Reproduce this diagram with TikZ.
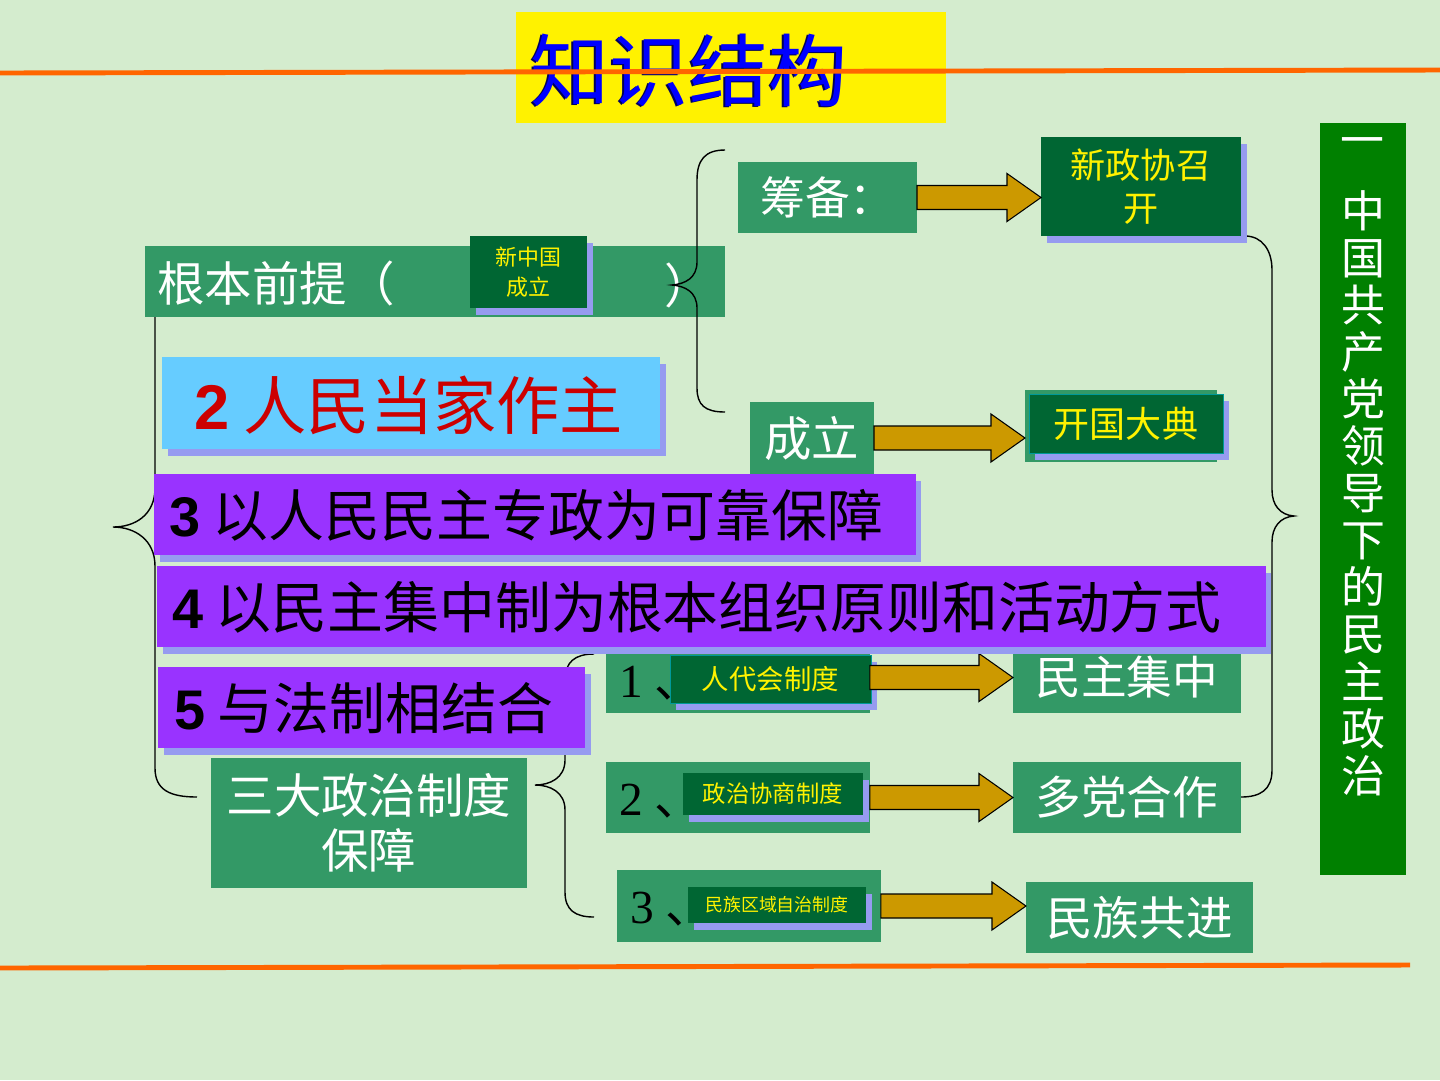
\documentclass[tikz,border=0pt]{standalone}
\usepackage{fontspec}
\setmainfont{Noto Sans CJK SC}
\newfontfamily\serifFont{Liberation Serif}
\newfontfamily\digitFont{Liberation Sans}
\usetikzlibrary{positioning,calc}
\definecolor{bgColor}{RGB}{212,236,206}
\definecolor{boxGreen}{RGB}{51,153,102}
\definecolor{darkGreen}{RGB}{0,102,51}
\definecolor{bannerGreen}{RGB}{0,128,0}
\definecolor{shadowBlue}{RGB}{150,155,240}
\definecolor{purpleBox}{RGB}{153,51,255}
\definecolor{lightBlue}{RGB}{102,204,255}
\definecolor{redText}{RGB}{204,0,0}
\definecolor{goldArrowColor}{RGB}{204,153,0}
\definecolor{lineOrange}{RGB}{255,102,0}
\definecolor{titleBlue}{RGB}{0,0,255}
\definecolor{titleShade}{RGB}{0,0,90}
\definecolor{tealBorder}{RGB}{0,153,153}
\tikzstyle{slide} = [x = 0.02cm, y = -0.02cm]
\tikzstyle{boxBase} = [anchor=north west, inner sep=0pt, outer sep=0pt]
\tikzstyle{shadowed} = [preaction={fill=shadowBlue, transform canvas={xshift=3.2pt, yshift=-4.2pt}}]
\tikzstyle{greenBox} = [boxBase, fill=boxGreen, text=white]
\tikzstyle{darkBox} = [boxBase, shadowed, fill=darkGreen, text=yellow, align=center]
\tikzstyle{purpleBar} = [boxBase, shadowed, fill=purpleBox]
\tikzstyle{blackText} = [anchor=west, inner sep=0pt, text=black, font=\fontsize{31.8}{36}\selectfont]
\tikzstyle{braceLine} = [color=black, thick]
\tikzstyle{orangeLine} = [color=lineOrange, line width=2.8pt]
\tikzstyle{goldArrowStyle} = [fill=goldArrowColor, draw=black, semithick, line join=miter]
\newcommand{\goldArrow}[2]{\filldraw [goldArrowStyle] let \p1 = (#1.east), \p2 = (#2.west) in
  (\x1, \y1 + 0.24cm) -- (\x2 - 0.68cm, \y1 + 0.24cm) -- (\x2 - 0.68cm, \y1 + 0.48cm) -- (\x2, \y1)
  -- (\x2 - 0.68cm, \y1 - 0.48cm) -- (\x2 - 0.68cm, \y1 - 0.24cm) -- (\x1, \y1 - 0.24cm) -- cycle;}
\newcommand{\bigDigit}[1]{{\digitFont\bfseries #1}}
\begin{document}
\begin{tikzpicture}[slide]
  \fill [bgColor] (0,0) rectangle (1440,1080);
  \useasboundingbox (0,0) rectangle (1440,1080);

  % title
  \node [boxBase, fill=yellow, minimum width=8.6cm, minimum height=2.22cm] (titleBox) at (516,12) {};
  \node [text=titleShade, font=\fontsize{45}{50}\selectfont] (titleShadow) at (687,71) {知识结构};
  \node [text=titleBlue, font=\fontsize{45}{50}\selectfont] (titleText) at (689,70) {知识结构};
  \draw [orangeLine] (0,73) -- (1440,70);
  \draw [orangeLine] (0,968) -- (1410,965);

  % braces
  \draw [braceLine] (197,252) .. controls (170,252) and (155,262) .. (155,290) -- (155,488)
    .. controls (155,515) and (135,527) .. (113,527) .. controls (135,527) and (155,540) .. (155,566)
    -- (155,768) .. controls (155,790) and (170,797) .. (197,797);
  \draw [braceLine] (594,654) .. controls (575,654) and (565,662) .. (565,680) -- (565,760)
    .. controls (565,778) and (550,785) .. (535,785) .. controls (550,785) and (565,792) .. (565,810)
    -- (565,892) .. controls (565,910) and (575,917) .. (594,917);
  \draw [braceLine] (1245,236) .. controls (1262,236) and (1272,250) .. (1272,270) -- (1272,490)
    .. controls (1272,505) and (1280,515) .. (1294,516) .. controls (1280,517) and (1272,527) .. (1272,542)
    -- (1272,770) .. controls (1272,790) and (1260,797) .. (1241,797);

  % founding of the new state
  \node [greenBox, minimum width=11.6cm, minimum height=1.42cm] (premise) at (145,246) {};
  \node [anchor=west, inner sep=0pt, text=white, font=\fontsize{27}{30}\selectfont] (premiseText) at (157,283) {根本前提（};
  \node [inner sep=0pt, text=white, font=\fontsize{27}{30}\selectfont] (premiseClose) at (688,285) {）};
  \node [darkBox, minimum width=2.34cm, minimum height=1.44cm, font=\fontsize{12.5}{17}\selectfont] (newChina) at (470,236) {新中国\\成立};
  \draw [braceLine] (725,150) .. controls (705,150) and (697,160) .. (697,180) -- (697,262)
    .. controls (697,278) and (685,284) .. (672,285) .. controls (685,286) and (697,292) .. (697,308)
    -- (697,388) .. controls (697,405) and (705,412) .. (725,412);

  \node [greenBox, minimum width=3.58cm, minimum height=1.42cm, font=\fontsize{25.5}{30}\selectfont] (prep) at (738,162) {筹备：};
  \node [darkBox, minimum width=4cm, minimum height=1.98cm, font=\fontsize{20}{24.4}\selectfont] (cppcc) at (1041,137) {新政协召\\开};
  \goldArrow{prep}{cppcc}

  \node [greenBox, minimum width=2.48cm, minimum height=1.44cm, font=\fontsize{27}{30}\selectfont] (found) at (750,402) {成立};
  \node [greenBox, minimum width=3.84cm, minimum height=1.44cm] (ceremonyBack) at (1025,390) {};
  \node [darkBox, draw=tealBorder, minimum width=3.88cm, minimum height=1.18cm, font=\fontsize{20.5}{24}\selectfont] (ceremony) at (1029,394) {开国大典};
  \goldArrow{found}{ceremonyBack}

  % people are masters
  \node [boxBase, shadowed, fill=lightBlue, minimum width=9.96cm, minimum height=1.84cm] (people) at (162,357) {};
  \node [anchor=west, inner sep=0pt, text=redText, font=\fontsize{36}{40}\selectfont] (peopleText) at (194,405) {\bigDigit{2} 人民当家作主};

  % three systems
  \node [greenBox, minimum width=5.28cm, minimum height=1.42cm] (rowOne) at (606,642) {};
  \node [anchor=west, inner sep=0pt, font=\fontsize{27}{30}\selectfont] (rowOneNum) at (619,683) {{\serifFont 1 }、};
  \node [darkBox, draw=tealBorder, minimum width=4.02cm, minimum height=0.96cm, font=\fontsize{15.6}{18}\selectfont] (rowOneInner) at (670,655) {人代会制度};
  \node [greenBox, minimum width=4.56cm, minimum height=1.42cm, font=\fontsize{26}{30}\selectfont] (demo) at (1013,642) {民主集中};
  \goldArrow{rowOne}{demo}

  \node [greenBox, minimum width=5.28cm, minimum height=1.42cm] (rowTwo) at (606,762) {};
  \node [anchor=west, inner sep=0pt, font=\fontsize{27}{30}\selectfont] (rowTwoNum) at (619,801) {{\serifFont 2 }、};
  \node [darkBox, minimum width=3.6cm, minimum height=0.84cm, font=\fontsize{13.3}{16}\selectfont] (rowTwoInner) at (683,773) {政治协商制度};
  \node [greenBox, minimum width=4.56cm, minimum height=1.42cm, font=\fontsize{26}{30}\selectfont] (multi) at (1013,762) {多党合作};
  \goldArrow{rowTwo}{multi}

  \node [greenBox, minimum width=5.28cm, minimum height=1.44cm] (rowThree) at (617,870) {};
  \node [anchor=west, inner sep=0pt, font=\fontsize{27}{30}\selectfont] (rowThreeNum) at (630,909) {{\serifFont 3 }、};
  \node [darkBox, minimum width=3.56cm, minimum height=0.72cm, font=\fontsize{10.2}{12}\selectfont] (rowThreeInner) at (688,887) {民族区域自治制度};
  \node [greenBox, minimum width=4.54cm, minimum height=1.42cm, font=\fontsize{26.5}{30}\selectfont] (ethnic) at (1026,882) {民族共进};
  \goldArrow{rowThree}{ethnic}

  % purple bars
  \node [purpleBar, minimum width=15.24cm, minimum height=1.62cm] (dictatorship) at (154,474) {};
  \node [blackText] (dictatorshipText) at (169,515) {\bigDigit{3} 以人民民主专政为可靠保障};
  \node [purpleBar, minimum width=22.18cm, minimum height=1.62cm] (centralism) at (157,566) {};
  \node [blackText] (centralismText) at (172,607) {\bigDigit{4} 以民主集中制为根本组织原则和活动方式};
  \node [purpleBar, minimum width=8.54cm, minimum height=1.62cm] (legality) at (158,667) {};
  \node [blackText] (legalityText) at (174,708) {\bigDigit{5} 与法制相结合};

  \node [greenBox, align=center, minimum width=6.32cm, minimum height=2.6cm, font=\fontsize{27}{31.7}\selectfont] (threeSystems) at (211,758) {三大政治制度\\保障};

  % banner
  \node [boxBase, fill=bannerGreen, minimum width=1.72cm, minimum height=15.04cm] (banner) at (1320,123) {};
  \node [text=white, inner sep=0pt, font=\fontsize{25}{27}\selectfont] (bannerOne) at (1362,147) {一};
  \node [text=white, inner sep=0pt, align=center, font=\fontsize{25}{26.8}\selectfont] (bannerText) at (1363,493)
    {中\\国\\共\\产\\党\\领\\导\\下\\的\\民\\主\\政\\治};
\end{tikzpicture}
\end{document}
